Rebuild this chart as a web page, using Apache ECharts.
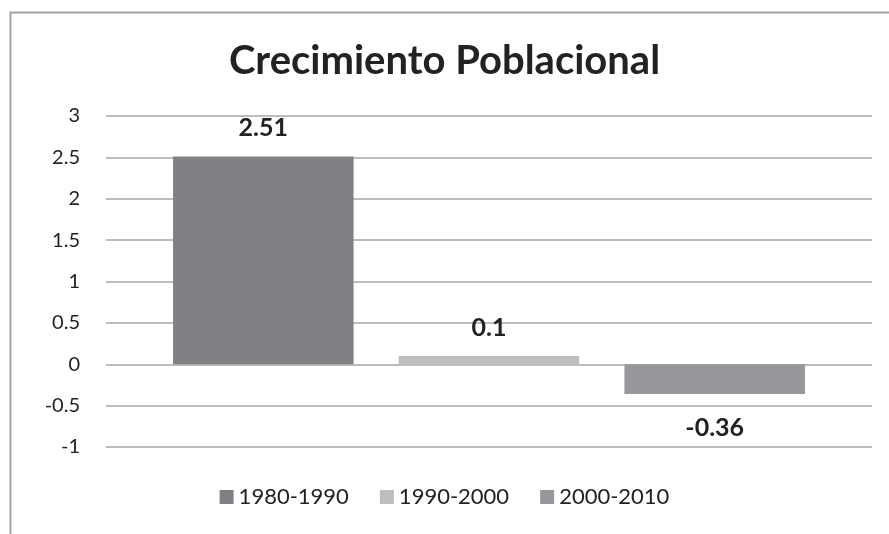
<!DOCTYPE html>
<html>
<head>
<meta charset="utf-8">
<script src="https://cdn.jsdelivr.net/npm/echarts@6/dist/echarts.min.js"></script>
<style>
  html, body { margin: 0; padding: 0; background: #fff; }
  #chart { width: 889px; height: 534px; }
</style>
</head>
<body>
<div id="chart"></div>
<script>
const categories = ['Crecimiento']
const seriesNames = ['1980-1990', '1990-2000', '2000-2010']
const seriesValues = [2.51, 0.1, -0.36]
const seriesColors = ['#808184', '#bdbec0', '#97989b']
const yTicks = { min: -1, max: 3, interval: 0.5 }

const chart = echarts.init(document.getElementById('chart'))
const font = 'Lato, "Open Sans", sans-serif'

const series = seriesNames.map((name, i) => ({
    name: name,
    type: 'bar',
    barGap: '25%',
    barCategoryGap: '17.5%',
    itemStyle: { color: seriesColors[i] },
    label: {
        show: true,
        position: seriesValues[i] < 0 ? 'bottom' : 'top',
        distance: seriesValues[i] < 0 ? 21 : 16,
        fontFamily: font,
        fontWeight: 'bold',
        fontSize: 25,
        color: '#222'
    },
    data: [seriesValues[i]]
}))

const option = {
    backgroundColor: '#fff',
    textStyle: { fontFamily: font },
    animation: false,
    title: {
        text: 'Crecimiento Poblacional',
        left: 'center',
        top: 36,
        textStyle: {
            fontFamily: font,
            fontWeight: 'bold',
            fontSize: 40,
            color: '#222'
        }
    },
    graphic: [{
        type: 'rect',
        left: 8,
        top: 10,
        shape: { width: 1000, height: 600 },
        style: { fill: 'none', stroke: '#a3a3a3', lineWidth: 2 },
        silent: true,
        z: -1
    }],
    legend: {
        bottom: 21,
        left: 'center',
        itemWidth: 14,
        itemHeight: 14,
        itemGap: 31,
        icon: 'rect',
        textStyle: { fontFamily: font, fontSize: 22, color: '#222' },
        data: seriesNames
    },
    grid: {
        left: 106,
        right: 17,
        top: 116,
        bottom: 87
    },
    xAxis: {
        type: 'category',
        data: categories,
        axisLine: { show: false },
        axisTick: { show: false },
        axisLabel: { show: false }
    },
    yAxis: {
        type: 'value',
        min: yTicks.min,
        max: yTicks.max,
        interval: yTicks.interval,
        axisLine: { show: false },
        axisTick: { show: false },
        axisLabel: {
            fontFamily: font,
            fontSize: 20,
            color: '#222',
            margin: 26
        },
        splitLine: { lineStyle: { color: '#a6a6a6', width: 1.5 } }
    },
    series: series
}

chart.setOption(option)
window.addEventListener('resize', () => chart.resize())
</script>
</body>
</html>
